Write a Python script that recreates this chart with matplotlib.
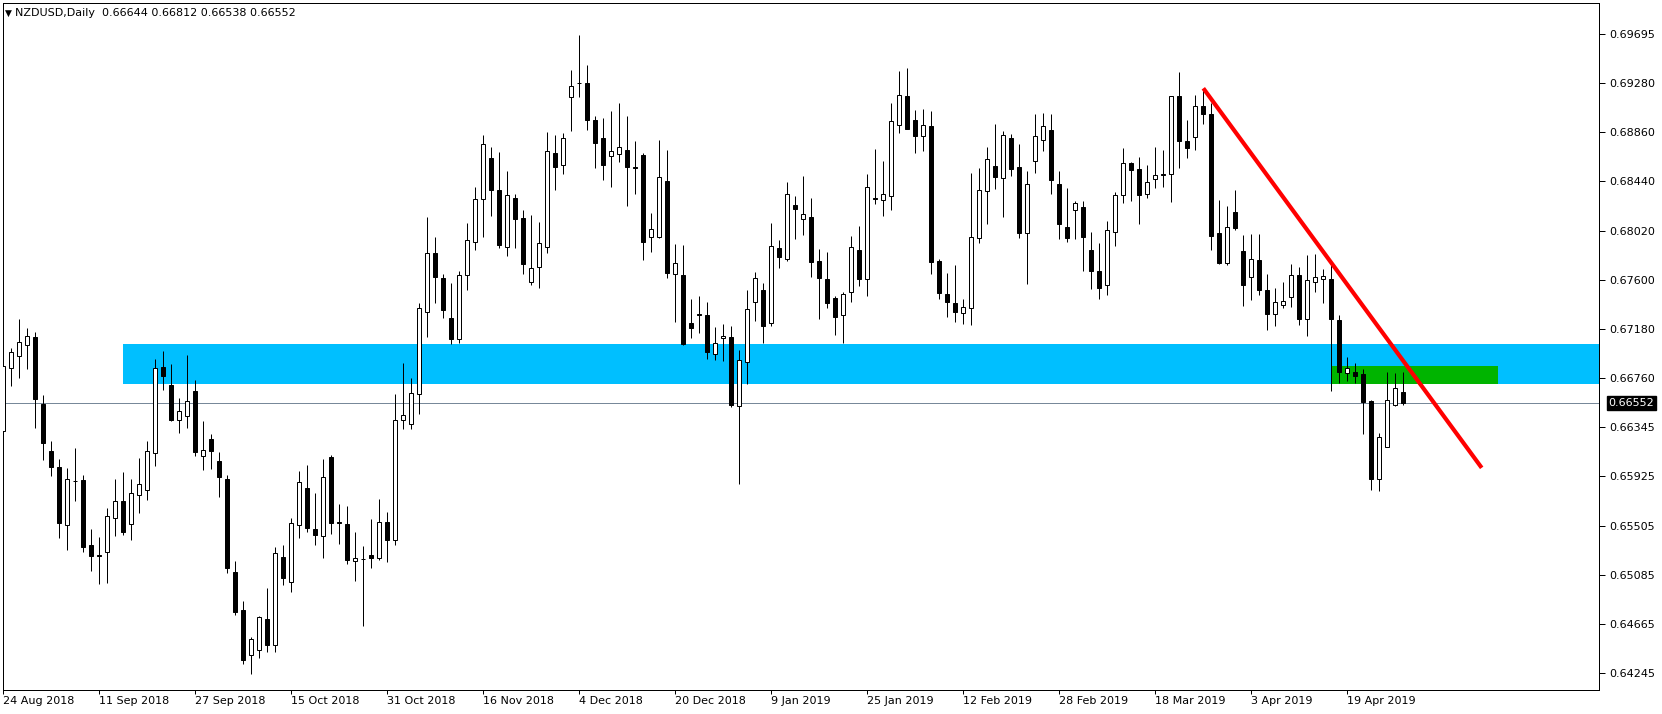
import matplotlib
matplotlib.use('Agg')
import matplotlib.pyplot as plt
import matplotlib.transforms as mtransforms
from matplotlib.patches import Rectangle
import numpy as np

FontSize = 8
PX = 72.0 / 100  # one pixel in points at dpi 100

symbol = 'NZDUSD,Daily'

date_labels = ['24 Aug 2018', '11 Sep 2018', '27 Sep 2018', '15 Oct 2018', '31 Oct 2018',
               '16 Nov 2018', '4 Dec 2018', '20 Dec 2018', '9 Jan 2019', '25 Jan 2019',
               '12 Feb 2019', '28 Feb 2019', '18 Mar 2019', '3 Apr 2019', '19 Apr 2019']
date_label_bars = [0, 12, 24, 36, 48, 60, 72, 84, 96, 108, 120, 132, 144, 156, 168]

price_ticks = [0.69695, 0.69280, 0.68860, 0.68440, 0.68020, 0.67600, 0.67180,
               0.66760, 0.66345, 0.65925, 0.65505, 0.65085, 0.64665, 0.64245]

opens = [0.66312, 0.66849, 0.66952, 0.67046, 0.67114, 0.66543, 0.66142, 0.66005, 0.65511, 0.65886,
         0.65895, 0.65341, 0.65255, 0.65281, 0.65571, 0.65716, 0.65520, 0.65767, 0.65809, 0.66125,
         0.66858, 0.66705, 0.66406, 0.66440, 0.66653, 0.66099, 0.66244, 0.66057, 0.65903, 0.65110,
         0.64786, 0.64403, 0.64445, 0.64710, 0.64488, 0.65238, 0.65025, 0.65511, 0.65826, 0.65477,
         0.65417, 0.66091, 0.65537, 0.65520, 0.65204, 0.65221, 0.65255, 0.65230, 0.65537, 0.65383,
         0.66406, 0.66372, 0.66628, 0.67327, 0.67830, 0.67617, 0.67276, 0.67097, 0.67642, 0.67924,
         0.68290, 0.68640, 0.68367, 0.67881, 0.68299, 0.68128, 0.67583, 0.67710, 0.67881, 0.68682,
         0.68580, 0.69160, 0.69279, 0.69279, 0.68964, 0.68810, 0.68657, 0.68674, 0.68708, 0.68559,
         0.68665, 0.67966, 0.67966, 0.68444, 0.67651, 0.67642, 0.67233, 0.67306, 0.67301, 0.66969,
         0.67105, 0.67114, 0.66525, 0.66901, 0.67412, 0.67514, 0.67233, 0.67872, 0.67779, 0.68239,
         0.68120, 0.68137, 0.67762, 0.67608, 0.67446, 0.67301, 0.67497, 0.67855, 0.67608, 0.68299,
         0.68282, 0.68316, 0.68921, 0.69168, 0.68964, 0.68827, 0.68912, 0.67762, 0.67480, 0.67404,
         0.67318, 0.67361, 0.67958, 0.68358, 0.68571, 0.68469, 0.68810, 0.68563, 0.68000, 0.68614,
         0.68793, 0.68878, 0.68418, 0.68051, 0.68196, 0.68222, 0.67855, 0.67676, 0.67557, 0.68009,
         0.68324, 0.68597, 0.68546, 0.68333, 0.68461, 0.68499, 0.68503, 0.69168, 0.68785, 0.68819,
         0.69083, 0.69015, 0.68000, 0.67745, 0.68179, 0.67847, 0.67625, 0.67770, 0.67514, 0.67310,
         0.67387, 0.67455, 0.67642, 0.67267, 0.67583, 0.67608, 0.67608, 0.67259, 0.66807, 0.66815,
         0.66798, 0.66568, 0.65903, 0.66176, 0.66534, 0.66644]

highs = [0.66960, 0.67020, 0.67267, 0.67190, 0.67156, 0.66619, 0.66227, 0.66074, 0.65997, 0.66167,
         0.65937, 0.65477, 0.65409, 0.65656, 0.65903, 0.65963, 0.65903, 0.66082, 0.66227, 0.66926,
         0.66994, 0.66884, 0.66594, 0.66960, 0.66747, 0.66398, 0.66287, 0.66133, 0.65937, 0.65204,
         0.64863, 0.64556, 0.64735, 0.64974, 0.65323, 0.65341, 0.65571, 0.65971, 0.66023, 0.65784,
         0.66074, 0.66108, 0.65690, 0.65673, 0.65451, 0.65332, 0.65562, 0.65733, 0.65622, 0.66628,
         0.66892, 0.66764, 0.67404, 0.68137, 0.67966, 0.67651, 0.67574, 0.67676, 0.68086, 0.68392,
         0.68836, 0.68733, 0.68691, 0.68529, 0.68333, 0.68196, 0.68154, 0.68094, 0.68861, 0.68836,
         0.68853, 0.69390, 0.69688, 0.69433, 0.68998, 0.68981, 0.69040, 0.69109, 0.68998, 0.68785,
         0.68682, 0.68171, 0.68793, 0.68708, 0.67907, 0.67898, 0.67438, 0.67463, 0.67412, 0.67199,
         0.67225, 0.67207, 0.67003, 0.67514, 0.67668, 0.67574, 0.68086, 0.67941, 0.68435, 0.68316,
         0.68486, 0.68299, 0.67864, 0.67838, 0.67463, 0.67497, 0.67975, 0.68060, 0.68503, 0.68716,
         0.68614, 0.69109, 0.69381, 0.69407, 0.69049, 0.69057, 0.69040, 0.67779, 0.67659, 0.67728,
         0.67438, 0.68512, 0.68554, 0.68733, 0.68930, 0.68870, 0.68844, 0.68759, 0.68529, 0.69015,
         0.69023, 0.69015, 0.68529, 0.68384, 0.68273, 0.68273, 0.68009, 0.67915, 0.68103, 0.68350,
         0.68725, 0.68606, 0.68648, 0.68580, 0.68733, 0.68708, 0.69168, 0.69373, 0.68964, 0.69177,
         0.69219, 0.69109, 0.68282, 0.68230, 0.68367, 0.67983, 0.67992, 0.67992, 0.67651, 0.67531,
         0.67583, 0.67736, 0.67710, 0.67813, 0.67821, 0.67693, 0.67736, 0.67301, 0.66943, 0.66892,
         0.66841, 0.66577, 0.66295, 0.66815, 0.66807, 0.66812]

lows = [0.66202, 0.66696, 0.66764, 0.66841, 0.66338, 0.66065, 0.65929, 0.65400, 0.65298, 0.65716,
        0.65281, 0.65119, 0.65008, 0.65017, 0.65417, 0.65426, 0.65383, 0.65613, 0.65724, 0.66014,
        0.66662, 0.66398, 0.66295, 0.66338, 0.66099, 0.65980, 0.65988, 0.65750, 0.65102, 0.64744,
        0.64326, 0.64241, 0.64377, 0.64428, 0.64428, 0.64999, 0.64940, 0.65400, 0.65451, 0.65341,
        0.65230, 0.65434, 0.65349, 0.65179, 0.65034, 0.64650, 0.65144, 0.65213, 0.65196, 0.65341,
        0.66329, 0.66329, 0.66457, 0.67114, 0.67404, 0.67276, 0.67054, 0.67063, 0.67514, 0.67855,
        0.67966, 0.68145, 0.67872, 0.67804, 0.67872, 0.67651, 0.67557, 0.67531, 0.67830, 0.68367,
        0.68503, 0.68870, 0.69160, 0.68878, 0.68554, 0.68452, 0.68392, 0.68606, 0.68230, 0.68333,
        0.67770, 0.67838, 0.67958, 0.67617, 0.67242, 0.67046, 0.67105, 0.67148, 0.66926, 0.66918,
        0.66909, 0.66517, 0.65861, 0.66713, 0.67250, 0.67063, 0.67207, 0.67702, 0.67762, 0.67949,
        0.67983, 0.67625, 0.67267, 0.67361, 0.67131, 0.67063, 0.67412, 0.67548, 0.67463, 0.68248,
        0.68145, 0.68196, 0.68853, 0.68887, 0.68682, 0.68699, 0.67651, 0.67438, 0.67284, 0.67242,
        0.67225, 0.67216, 0.67915, 0.68077, 0.68375, 0.68137, 0.68486, 0.67958, 0.67566, 0.68512,
        0.68699, 0.68333, 0.67949, 0.67924, 0.67949, 0.67676, 0.67523, 0.67438, 0.67472, 0.67889,
        0.68256, 0.68273, 0.68077, 0.68299, 0.68384, 0.68392, 0.68265, 0.68554, 0.68640, 0.68708,
        0.68930, 0.67855, 0.67736, 0.67728, 0.68026, 0.67378, 0.67429, 0.67472, 0.67173, 0.67207,
        0.67361, 0.67369, 0.67216, 0.67122, 0.67497, 0.67404, 0.66653, 0.66722, 0.66739, 0.66722,
        0.66287, 0.65809, 0.65801, 0.66176, 0.66525, 0.66538]

closes = [0.66866, 0.66986, 0.67071, 0.67122, 0.66585, 0.66210, 0.66005, 0.65528, 0.65903, 0.65882,
          0.65323, 0.65247, 0.65247, 0.65588, 0.65716, 0.65451, 0.65784, 0.65861, 0.66142, 0.66849,
          0.66781, 0.66406, 0.66483, 0.66568, 0.66133, 0.66150, 0.66142, 0.65920, 0.65144, 0.64769,
          0.64360, 0.64539, 0.64727, 0.64488, 0.65272, 0.65059, 0.65528, 0.65878, 0.65485, 0.65426,
          0.65920, 0.65528, 0.65528, 0.65213, 0.65230, 0.65217, 0.65230, 0.65537, 0.65383, 0.66406,
          0.66449, 0.66636, 0.67361, 0.67830, 0.67625, 0.67344, 0.67097, 0.67642, 0.67941, 0.68290,
          0.68759, 0.68367, 0.67898, 0.68324, 0.68120, 0.67736, 0.67702, 0.67915, 0.68699, 0.68563,
          0.68810, 0.69253, 0.69275, 0.68964, 0.68768, 0.68580, 0.68699, 0.68733, 0.68563, 0.68554,
          0.67924, 0.68034, 0.68478, 0.67659, 0.67745, 0.67054, 0.67190, 0.67301, 0.66986, 0.67063,
          0.67122, 0.66534, 0.66918, 0.67352, 0.67617, 0.67207, 0.67889, 0.67796, 0.68333, 0.68205,
          0.68162, 0.67753, 0.67617, 0.67404, 0.67284, 0.67480, 0.67881, 0.67608, 0.68392, 0.68290,
          0.68333, 0.68955, 0.69177, 0.68887, 0.68827, 0.68921, 0.67753, 0.67489, 0.67412, 0.67327,
          0.67369, 0.67966, 0.68367, 0.68631, 0.68478, 0.68836, 0.68546, 0.68000, 0.68418, 0.68827,
          0.68912, 0.68452, 0.68077, 0.67958, 0.68256, 0.67966, 0.67676, 0.67531, 0.68026, 0.68324,
          0.68597, 0.68537, 0.68324, 0.68435, 0.68495, 0.68495, 0.69168, 0.68785, 0.68725, 0.69083,
          0.69015, 0.67975, 0.67745, 0.68051, 0.68043, 0.67557, 0.67779, 0.67514, 0.67310, 0.67412,
          0.67421, 0.67642, 0.67267, 0.67600, 0.67625, 0.67634, 0.67267, 0.66815, 0.66849, 0.66781,
          0.66560, 0.65903, 0.66261, 0.66577, 0.66679, 0.66552]

# drawn objects (bar index, price)
blue_zone = (15, 0.66709, 0.67054)          # start bar, low, high
green_zone = (166, 186.8, 0.66709, 0.66866)  # start bar, end bar, low, high
trend_bars = [150, 184.8]
trend_prices = [0.69234, 0.65998]


def plot_chart():
    o = np.array(opens)
    h = np.array(highs)
    l = np.array(lows)
    c = np.array(closes)
    x = np.arange(len(o))

    fig = plt.figure(figsize=(16.62, 7.14), dpi=100)
    fig.patch.set_facecolor('white')
    ax = fig.add_axes([2.7 / 1662, 24 / 714, (1598.5 - 2.7) / 1662, (690 - 3) / 714])

    ax.set_xlim(-0.075, 199.4)
    ax.set_ylim(0.64104, 0.69961)

    # zones and price line underneath the candles
    ax.add_patch(Rectangle((blue_zone[0], blue_zone[1]), 300, blue_zone[2] - blue_zone[1],
                           facecolor='#00BFFF', edgecolor='none', zorder=1))
    ax.add_patch(Rectangle((green_zone[0], green_zone[2]), green_zone[1] - green_zone[0],
                           green_zone[3] - green_zone[2],
                           facecolor='#00B400', edgecolor='none', zorder=1.2))
    ax.axhline(c[-1], color='#778899', lw=PX, zorder=1.5)

    # candles
    ax.vlines(x, l, h, color='black', lw=PX, zorder=3)
    up = c >= o
    dn = ~up
    body_up = np.maximum(c[up] - o[up], 0.00002)
    body_dn = np.maximum(o[dn] - c[dn], 0.00002)
    ax.bar(x[up], body_up, bottom=o[up], width=0.5, facecolor='white',
           edgecolor='black', linewidth=PX, zorder=4)
    ax.bar(x[dn], body_dn, bottom=c[dn], width=0.5, facecolor='black',
           edgecolor='black', linewidth=PX, zorder=4)

    # trend line
    ax.plot(trend_bars, trend_prices, color='#FF0000', lw=3.0, zorder=6,
            solid_capstyle='butt')

    # axes look
    for s in ax.spines.values():
        s.set_color('black')
        s.set_linewidth(PX)
    ax.yaxis.tick_right()
    ax.set_yticks(price_ticks)
    ax.set_yticklabels(['%.5f' % v for v in price_ticks])
    ax.tick_params(axis='y', direction='out', length=4, width=PX, pad=4,
                   labelsize=FontSize, colors='black')
    ax.set_xticks(date_label_bars)
    ax.set_xticklabels(date_labels)
    ax.tick_params(axis='x', direction='out', length=3, width=PX, pad=1,
                   labelsize=FontSize, colors='black')
    for lab in ax.get_xticklabels():
        lab.set_horizontalalignment('left')

    # current price tag on the axis
    trans = mtransforms.blended_transform_factory(ax.transAxes, ax.transData)
    ax.text(1.0 + 10 / 1596, c[-1], '%.5f' % c[-1], transform=trans, ha='left', va='center',
            fontsize=FontSize, color='white', zorder=10, clip_on=False,
            bbox=dict(boxstyle='square,pad=0.15', facecolor='black', edgecolor='black'))

    # header
    fig.text(5 / 1662, 1 - 13 / 714, '\u25bc', fontsize=6.5, va='center', ha='left', color='black')
    fig.text(15 / 1662, 1 - 13 / 714,
             '%s  %.5f %.5f %.5f %.5f' % (symbol, o[-1], h[-1], l[-1], c[-1]),
             fontsize=FontSize, va='center', ha='left', color='black')

    fig.savefig('out.png', dpi=100, facecolor='white')


if __name__ == "__main__":
    plot_chart()
